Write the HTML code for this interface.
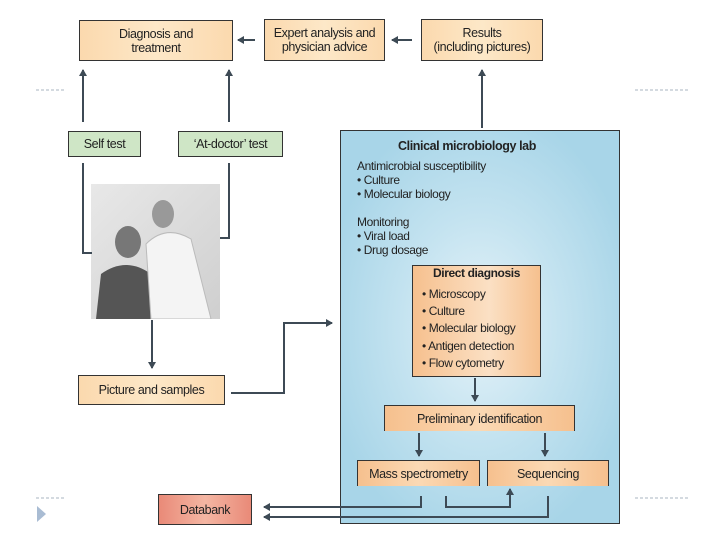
<!DOCTYPE html>
<html><head><meta charset="utf-8"><style>
body{margin:0;width:720px;height:540px;background:#fff;overflow:hidden;position:relative;font-family:"Liberation Sans",sans-serif;color:#222}
.b{position:absolute;box-sizing:border-box;border:1px solid #333;display:flex;align-items:center;justify-content:center;text-align:center;font-size:12.5px;line-height:14px;letter-spacing:-0.4px}
.o{background:linear-gradient(90deg,#fbd9ae,#fde8c8 50%,#fbd9ae)}
.g{background:#cfe6c6}
.t{position:absolute;font-size:12px;letter-spacing:-0.4px;white-space:nowrap}
</style></head><body>
<div class="b o" style="left:79px;top:20px;width:154px;height:41px">Diagnosis and<br>treatment</div>
<div class="b o" style="left:264px;top:19px;width:121px;height:42px">Expert analysis and<br>physician advice</div>
<div class="b o" style="left:421px;top:19px;width:122px;height:42px">Results<br>(including pictures)</div>
<div class="b g" style="left:68px;top:131px;width:73px;height:26px">Self test</div>
<div class="b g" style="left:178px;top:131px;width:105px;height:26px">‘At-doctor’ test</div>
<div style="position:absolute;left:340px;top:130px;width:280px;height:394px;box-sizing:border-box;border:1px solid #333;background:radial-gradient(ellipse at 50% 50%,#e6f3f9 0%,#c4e3f0 40%,#a8d5e8 80%)"></div>
<div class="t" style="left:398px;top:139px;font-weight:bold;font-size:12.5px">Clinical microbiology lab</div>
<div class="t" style="left:357px;top:159px;line-height:14px">Antimicrobial susceptibility<br>• Culture<br>• Molecular biology<br><br>Monitoring<br>• Viral load<br>• Drug dosage</div>
<div style="position:absolute;left:412px;top:265px;width:129px;height:112px;box-sizing:border-box;border:1px solid #333;background:linear-gradient(90deg,#f6c08e,#fbe0c4 60%,#f6c08e)"></div>
<div class="t" style="left:412px;width:129px;text-align:center;top:266px;font-weight:bold">Direct diagnosis</div>
<div class="t" style="left:422px;top:286px;line-height:17.2px">• Microscopy<br>• Culture<br>• Molecular biology<br>• Antigen detection<br>• Flow cytometry</div>
<div class="b" style="left:384px;top:405px;width:191px;height:26px;border-bottom:none;background:linear-gradient(90deg,#f6c08e,#fbd9b4 50%,#f6c08e)">Preliminary identification</div>
<div class="b" style="left:357px;top:460px;width:123px;height:26px;border-bottom:none;background:linear-gradient(90deg,#f6c08e,#fbd9b4 50%,#f6c08e)">Mass spectrometry</div>
<div class="b" style="left:487px;top:460px;width:122px;height:26px;border-bottom:none;background:linear-gradient(90deg,#f6c08e,#fbd9b4 50%,#f6c08e)">Sequencing</div>
<div class="b o" style="left:78px;top:375px;width:147px;height:30px">Picture and samples</div>
<div class="b" style="left:158px;top:494px;width:94px;height:31px;background:linear-gradient(90deg,#e98a78,#f4b6a3 50%,#e98a78)">Databank</div>
<div style="position:absolute;left:91px;top:184px;width:129px;height:135px;background:linear-gradient(135deg,#e8e8e8,#cfcfcf)">
<svg width="129" height="135"><ellipse cx="37" cy="58" rx="13" ry="16" fill="#777"/><path d="M5 135 L10 90 Q35 72 60 90 L65 135Z" fill="#555"/><ellipse cx="72" cy="30" rx="11" ry="14" fill="#999"/><path d="M55 60 Q75 40 100 55 L120 135 L60 135Z" fill="#f4f4f4" stroke="#bbb"/></svg></div>
<svg width="720" height="540" style="position:absolute;left:0;top:0" fill="none" stroke="#3d4a55" stroke-width="2">
<defs><marker id="a" markerWidth="8" markerHeight="8" refX="6" refY="4" orient="auto" markerUnits="userSpaceOnUse"><path d="M0,0 L7,4 L0,8Z" fill="#3d4a55" stroke="none"/></marker></defs>
<path d="M255 40 H238" marker-end="url(#a)"/>
<path d="M412 40 H392" marker-end="url(#a)"/>
<path d="M482 128 V70" marker-end="url(#a)"/>
<path d="M83 122 V70" marker-end="url(#a)"/>
<path d="M229 122 V70" marker-end="url(#a)"/>
<path d="M83 163 V253 H92"/>
<path d="M229 163 V238 H220"/>
<path d="M152 320 V368" marker-end="url(#a)"/>
<path d="M231 393 H284 V323 H332" marker-end="url(#a)"/>
<path d="M475 378 V401" marker-end="url(#a)"/>
<path d="M419 433 V456" marker-end="url(#a)"/>
<path d="M545 433 V456" marker-end="url(#a)"/>
<path d="M421 496 V507 H264" marker-end="url(#a)"/>
<path d="M446 496 V507 H510 V489" marker-end="url(#a)"/>
<path d="M548 496 V517 H264" marker-end="url(#a)"/>
</svg>
<svg width="720" height="540" style="position:absolute;left:0;top:0" stroke="#aab4c0" stroke-width="1" stroke-dasharray="3,2">
<path d="M36 90 H66 M635 90 H690 M36 498 H66 M635 498 H690"/>
<path d="M37 506 L46 514 L37 522Z" fill="#a9bcd3" stroke="none"/>
</svg>
</body></html>
